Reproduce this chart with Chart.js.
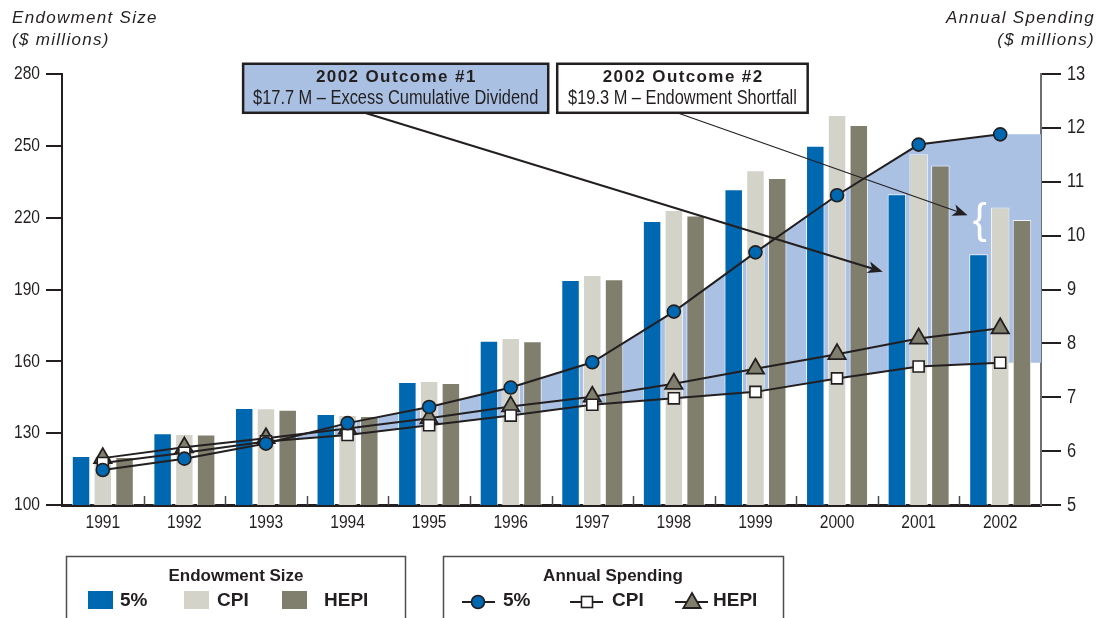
<!DOCTYPE html>
<html>
<head>
<meta charset="utf-8">
<script src="https://cdn.jsdelivr.net/npm/chart.js@4.4.1/dist/chart.umd.min.js"></script>
<style>
  html, body { margin: 0; padding: 0; background: #ffffff; }
  #wrap { position: relative; width: 1110px; height: 618px; }
</style>
</head>
<body>
<div id="wrap"><canvas id="chart" width="1110" height="618"></canvas></div>
<script>
// ---- data ($ millions) ----
const years = ['1991','1992','1993','1994','1995','1996','1997','1998','1999','2000','2001','2002'];

// Endowment size, left axis
const endow5    = [120.5, 130.0, 140.5, 138.0, 151.4, 168.6, 194.0, 218.6, 231.9, 250.0, 229.8, 204.7];
const endowCPI  = [120.3, 129.7, 140.4, 137.6, 151.8, 169.7, 196.1, 223.2, 239.8, 262.9, 246.5, 224.2];
const endowHEPI = [120.0, 129.4, 139.8, 137.2, 150.9, 168.4, 194.3, 220.9, 236.6, 258.7, 241.8, 219.0];

// Annual spending, right axis
const spend5    = [5.65, 5.86, 6.14, 6.52, 6.82, 7.18, 7.65, 8.59, 9.69, 10.75, 11.69, 11.88];
const spendCPI  = [5.78, 5.97, 6.18, 6.30, 6.48, 6.66, 6.86, 6.98, 7.10, 7.35, 7.57, 7.64];
const spendHEPI = [5.87, 6.07, 6.24, 6.42, 6.61, 6.83, 7.01, 7.25, 7.53, 7.80, 8.09, 8.28];

// Axis ticks
const leftTicks  = { min: 100, max: 280, step: 30 };
const rightTicks = { min: 5, max: 13, step: 1 };

// Text
const leftTitle  = ['Endowment Size', '($ millions)'];
const rightTitle = ['Annual Spending', '($ millions)'];
const outcome1 = ['2002 Outcome #1', '$17.7 M \u2013 Excess Cumulative Dividend'];
const outcome2 = ['2002 Outcome #2', '$19.3 M \u2013 Endowment Shortfall'];
const legendEndowTitle = 'Endowment Size';
const legendSpendTitle = 'Annual Spending';
const seriesNames = ['5%', 'CPI', 'HEPI'];

// ---- styling ----
const INK = '#231f20';
const BLUE = '#0067b1';
const CPI_GREY = '#d3d3ca';
const HEPI_GREY = '#807e6d';
const SHADE = '#aac1e3';
const BOX_BLUE = '#a9c0e2';
const SANS = "'Liberation Sans', Arial, sans-serif";
const NARROW_SCALE = 0.82;   // Liberation Sans squeezed to narrow proportions

// Callout anchors in data units (x: year index, y: spending axis)
const callouts = {
  box1: { x0: 1.72, x1: 5.46, yTop: 13.19, yBot: 12.28 },
  box2: { x0: 5.57, x1: 8.64, yTop: 13.19, yBot: 12.28 },
  arrow1: { from: 3.21, to: { x: 9.56, y: 9.33 }, width: 2 },
  arrow2: { from: 7.04, to: { x: 10.60, y: 10.38 }, width: 1.2 },
  brace: { x: 10.75, y: 10.27 }
};

function narrowText(ctx, text, x, y, align, size, weight) {
  ctx.save();
  ctx.font = (weight ? weight + ' ' : '') + size + 'px ' + SANS;
  ctx.translate(x, y);
  ctx.scale(NARROW_SCALE, 1);
  ctx.textAlign = align;
  ctx.textBaseline = 'middle';
  ctx.fillText(text, 0, 0);
  ctx.restore();
}

function drawArrow(ctx, x0, y0, x1, y1, lw) {
  const a = Math.atan2(y1 - y0, x1 - x0);
  const L = 15, W = 6, N = 4;
  const cx = Math.cos(a), sy = Math.sin(a);
  ctx.save();
  ctx.strokeStyle = INK; ctx.fillStyle = INK; ctx.lineWidth = lw;
  ctx.beginPath();
  ctx.moveTo(x0, y0);
  ctx.lineTo(x1 - (L - N) * cx, y1 - (L - N) * sy);
  ctx.stroke();
  ctx.beginPath();
  ctx.moveTo(x1, y1);
  ctx.lineTo(x1 - L * cx - W * sy, y1 - L * sy + W * cx);
  ctx.lineTo(x1 - (L - N) * cx, y1 - (L - N) * sy);
  ctx.lineTo(x1 - L * cx + W * sy, y1 - L * sy - W * cx);
  ctx.closePath();
  ctx.fill();
  ctx.restore();
}

function drawMarker(ctx, kind, x, y) {
  ctx.save();
  ctx.strokeStyle = INK;
  if (kind === 0) {
    ctx.fillStyle = BLUE; ctx.lineWidth = 1.6;
    ctx.beginPath(); ctx.arc(x, y, 6.5, 0, Math.PI * 2); ctx.fill(); ctx.stroke();
  } else if (kind === 1) {
    ctx.fillStyle = '#ffffff'; ctx.lineWidth = 1.6;
    ctx.fillRect(x - 5.5, y - 5.5, 11, 11); ctx.strokeRect(x - 5.5, y - 5.5, 11, 11);
  } else {
    ctx.fillStyle = HEPI_GREY; ctx.lineWidth = 1.8;
    const r = 10;
    ctx.beginPath();
    ctx.moveTo(x, y - r);
    ctx.lineTo(x + r * 0.866, y + r / 2);
    ctx.lineTo(x - r * 0.866, y + r / 2);
    ctx.closePath(); ctx.fill(); ctx.stroke();
  }
  ctx.restore();
}

// Band where the 5% spending path runs above the CPI path, carried to the right edge
const shadeBand = {
  id: 'shadeBand',
  beforeDatasetsDraw(chart) {
    const ctx = chart.ctx, xs = chart.scales.x, ys = chart.scales.y2, area = chart.chartArea;
    const n = spend5.length;
    const k = spend5.findIndex((v, i) => v > spendCPI[i]);
    if (k < 1) return;
    const d0 = spend5[k - 1] - spendCPI[k - 1], d1 = spend5[k] - spendCPI[k];
    const t = d0 / (d0 - d1);
    const cx = k - 1 + t;
    const cy = spend5[k - 1] + t * (spend5[k] - spend5[k - 1]);
    ctx.save();
    ctx.beginPath();
    ctx.rect(area.left, area.top, area.right - area.left, area.bottom - area.top);
    ctx.clip();
    ctx.beginPath();
    ctx.moveTo(xs.getPixelForValue(cx), ys.getPixelForValue(cy));
    for (let i = k; i < n; i++) ctx.lineTo(xs.getPixelForValue(i), ys.getPixelForValue(spend5[i]));
    ctx.lineTo(area.right, ys.getPixelForValue(spend5[n - 1]));
    ctx.lineTo(area.right, ys.getPixelForValue(spendCPI[n - 1]));
    for (let i = n - 1; i >= k; i--) ctx.lineTo(xs.getPixelForValue(i), ys.getPixelForValue(spendCPI[i]));
    ctx.closePath();
    ctx.fillStyle = SHADE;
    ctx.fill();
    ctx.restore();
  }
};

const decor = {
  id: 'decor',
  afterDatasetsDraw(chart) {
    // small upright ticks between year groups
    const ctx = chart.ctx, xs = chart.scales.x, area = chart.chartArea;
    ctx.save();
    ctx.strokeStyle = '#4d4d4f'; ctx.lineWidth = 1.5;
    for (let i = 0; i < years.length - 1; i++) {
      const px = Math.round(xs.getPixelForValue(i + 0.5)) + 0.5;
      ctx.beginPath(); ctx.moveTo(px, area.bottom - 9); ctx.lineTo(px, area.bottom); ctx.stroke();
    }
    ctx.restore();
  },
  afterDraw(chart) {
    const ctx = chart.ctx, area = chart.chartArea;
    const xs = chart.scales.x, y1 = chart.scales.y, y2 = chart.scales.y2;
    const X = v => xs.getPixelForValue(v);
    const Y = v => y2.getPixelForValue(v);

    // tick labels in narrow type
    ctx.save();
    ctx.fillStyle = INK;
    xs.ticks.forEach((t, i) => narrowText(ctx, xs.getLabelForValue(t.value), xs.getPixelForTick(i), area.bottom + 18, 'center', 19));
    y1.ticks.forEach((t, i) => narrowText(ctx, t.label, area.left - 22, y1.getPixelForTick(i), 'right', 19));
    y2.ticks.forEach((t, i) => narrowText(ctx, t.label, area.right + 26, y2.getPixelForTick(i), 'left', 20));
    ctx.restore();

    // axis titles
    ctx.save();
    ctx.fillStyle = INK;
    ctx.font = 'italic 17px ' + SANS;
    ctx.letterSpacing = '1.3px';
    ctx.textBaseline = 'middle';
    ctx.textAlign = 'left';
    ctx.fillText(leftTitle[0], 12, 18);
    ctx.fillText(leftTitle[1], 12, 40);
    ctx.textAlign = 'right';
    ctx.fillText(rightTitle[0], 1095, 18);
    ctx.fillText(rightTitle[1], 1095, 40);
    ctx.restore();

    // arrows
    const b1 = callouts.box1, b2 = callouts.box2;
    const a1 = callouts.arrow1, a2 = callouts.arrow2;
    drawArrow(ctx, X(a1.from), Y(b1.yBot), X(a1.to.x), Y(a1.to.y), a1.width);
    drawArrow(ctx, X(a2.from), Y(b2.yBot), X(a2.to.x), Y(a2.to.y), a2.width);

    // callout boxes
    [[b1, BOX_BLUE, outcome1], [b2, '#ffffff', outcome2]].forEach(([b, fill, lines]) => {
      const x0 = X(b.x0), x1 = X(b.x1), t = Y(b.yTop), bt = Y(b.yBot);
      ctx.save();
      ctx.fillStyle = fill;
      ctx.fillRect(x0, t, x1 - x0, bt - t);
      ctx.strokeStyle = INK; ctx.lineWidth = 2.5;
      ctx.strokeRect(x0, t, x1 - x0, bt - t);
      ctx.fillStyle = INK;
      ctx.textAlign = 'center'; ctx.textBaseline = 'middle';
      ctx.font = 'bold 17px ' + SANS;
      ctx.letterSpacing = '1.4px';
      ctx.fillText(lines[0], (x0 + x1) / 2 + 0.7, t + 14);
      ctx.letterSpacing = '0px';
      narrowText(ctx, lines[1], (x0 + x1) / 2, t + 35, 'center', 20);
      ctx.restore();
    });

    // brace beside the 2002 bars
    ctx.save();
    ctx.fillStyle = '#ffffff';
    ctx.font = '42px ' + SANS;
    ctx.textAlign = 'center'; ctx.textBaseline = 'middle';
    ctx.fillText('{', X(callouts.brace.x), Y(callouts.brace.y));
    ctx.restore();

    // legends
    const swatches = [BLUE, CPI_GREY, HEPI_GREY];
    ctx.save();
    ctx.strokeStyle = '#4d4d4f'; ctx.lineWidth = 1.5;
    ctx.strokeRect(66.5, 556.5, 339, 80);
    ctx.strokeRect(443.5, 556.5, 340, 80);
    ctx.fillStyle = INK;
    ctx.textBaseline = 'middle';
    ctx.textAlign = 'center';
    ctx.font = 'bold 17px ' + SANS;
    ctx.fillText(legendEndowTitle, 236, 576);
    ctx.fillText(legendSpendTitle, 613, 576);

    const swX = [88, 184, 282], txX = [120, 217, 324];
    ctx.textAlign = 'left';
    ctx.font = 'bold 19px ' + SANS;
    for (let i = 0; i < 3; i++) {
      ctx.fillStyle = swatches[i];
      ctx.fillRect(swX[i], 591, 25, 18);
      ctx.fillStyle = INK;
      ctx.fillText(seriesNames[i], txX[i], 601);
    }
    const mkX = [478, 587, 692], lnX = [[462, 495], [570, 603], [675, 708]], t2X = [503, 612, 713];
    for (let i = 0; i < 3; i++) {
      ctx.strokeStyle = INK; ctx.lineWidth = 2;
      ctx.beginPath(); ctx.moveTo(lnX[i][0], 602); ctx.lineTo(lnX[i][1], 602); ctx.stroke();
      drawMarker(ctx, i, mkX[i], i === 2 ? 603 : 602);
      ctx.fillStyle = INK;
      ctx.fillText(seriesNames[i], t2X[i], 601);
    }
    ctx.restore();
  }
};

const barCommon = {
  type: 'bar', yAxisID: 'y', xAxisID: 'x', order: 2,
  categoryPercentage: 0.8, barPercentage: 0.85,
  borderWidth: 1, borderColor: 'rgba(255,255,255,0.85)', borderSkipped: 'bottom'
};
const lineCommon = {
  type: 'line', yAxisID: 'y2', xAxisID: 'x',
  borderColor: INK, borderWidth: 2, pointBorderColor: INK, tension: 0, fill: false
};

new Chart(document.getElementById('chart'), {
  type: 'bar',
  data: {
    labels: years,
    datasets: [
      Object.assign({ label: 'Endowment 5%', data: endow5, backgroundColor: BLUE }, barCommon),
      Object.assign({ label: 'Endowment CPI', data: endowCPI, backgroundColor: CPI_GREY }, barCommon),
      Object.assign({ label: 'Endowment HEPI', data: endowHEPI, backgroundColor: HEPI_GREY }, barCommon),
      Object.assign({ label: 'Spending HEPI', data: spendHEPI, pointStyle: 'triangle', pointRadius: 10,
        pointBackgroundColor: HEPI_GREY, pointBorderWidth: 1.8, order: 1 }, lineCommon),
      Object.assign({ label: 'Spending CPI', data: spendCPI, pointStyle: 'rect', pointRadius: 7.8,
        pointBackgroundColor: '#ffffff', pointBorderWidth: 1.6, order: 0.5 }, lineCommon),
      Object.assign({ label: 'Spending 5%', data: spend5, pointStyle: 'circle', pointRadius: 6.5,
        pointBackgroundColor: BLUE, pointBorderWidth: 1.6, order: 0 }, lineCommon)
    ]
  },
  options: {
    responsive: false,
    animation: false,
    devicePixelRatio: 1,
    layout: { padding: { top: 74, bottom: 83, left: 0, right: 0 } },
    plugins: {
      legend: { display: false },
      tooltip: { enabled: false }
    },
    scales: {
      x: {
        type: 'category', offset: true,
        grid: { display: false, offset: true },
        border: { display: true, color: INK, width: 3 },
        ticks: { display: false },
        afterFit: s => { s.height = 30; }
      },
      y: {
        position: 'left', min: leftTicks.min, max: leftTicks.max,
        grid: { drawOnChartArea: false, drawTicks: true, tickLength: 16, color: INK, lineWidth: 2 },
        border: { display: true, color: INK, width: 2 },
        ticks: { stepSize: leftTicks.step, display: false },
        afterFit: s => { s.width = 62; }
      },
      y2: {
        position: 'right', min: rightTicks.min, max: rightTicks.max,
        grid: { drawOnChartArea: false, drawTicks: true, tickLength: 20, color: INK, lineWidth: 2 },
        border: { display: true, color: '#6d6e71', width: 2 },
        ticks: { stepSize: rightTicks.step, display: false },
        afterFit: s => { s.width = 69; }
      }
    }
  },
  plugins: [shadeBand, decor]
});
</script>
</body>
</html>
